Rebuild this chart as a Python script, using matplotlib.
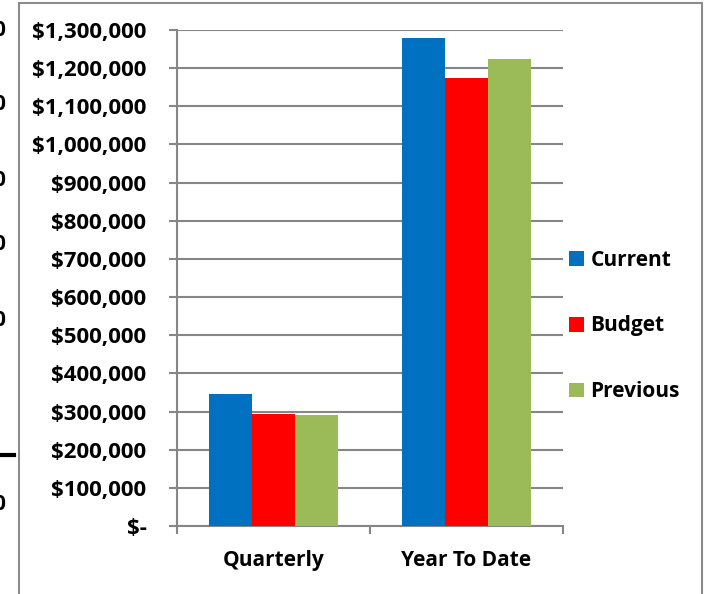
import matplotlib.pyplot as plt
from matplotlib.patches import Rectangle
from matplotlib.lines import Line2D
import numpy as np

categories = ["Quarterly", "Year To Date"]
series = ["Current", "Budget", "Previous"]
current = [346000, 1278000]
budget = [294000, 1173000]
previous = [291000, 1225000]
colors = ["#0070C0", "#FF0000", "#9BBB59"]
yticks = np.arange(0, 1300001, 100000)

plt.rcParams['font.family'] = ['Open Sans', 'DejaVu Sans']
fs = 15

fig = plt.figure(figsize=(7.1, 5.94), dpi=100)
ax = fig.add_axes([177 / 710, 1 - 526 / 594, (563 - 177) / 710, (526 - 30) / 594])

x = np.arange(len(categories))
w = 0.223
for i, (name, vals) in enumerate(zip(series, [current, budget, previous])):
    ax.bar(x + (i - 1) * w, vals, width=w, color=colors[i], label=name, zorder=3)

ax.set_xlim(-0.5, 1.5)
ax.set_ylim(0, 1300000)
grid_c = "#868686"
ax.set_yticks(yticks)
ax.set_yticklabels(["$-" if v == 0 else "${:,.0f}".format(v) for v in yticks],
                   fontsize=16, fontweight='bold')
ax.yaxis.grid(True, color=grid_c, linewidth=1.5, zorder=0)
ax.set_xticks(x)
ax.set_xticklabels(categories, fontsize=fs, fontweight='bold')
ax.set_xticks([-0.5, 0.5, 1.5], minor=True)
ax.tick_params(axis='x', which='major', length=0, pad=17)
ax.tick_params(axis='x', which='minor', length=6, width=1.5, color=grid_c)
ax.tick_params(axis='y', length=6, width=1.5, color=grid_c, pad=16)
for s in ['top', 'right']:
    ax.spines[s].set_visible(False)
for s in ['left', 'bottom']:
    ax.spines[s].set_color(grid_c)
    ax.spines[s].set_linewidth(1.5)

ax.legend(loc='center left', bbox_to_anchor=(1.0, (526 - 326) / 496), frameon=False,
          prop={'weight': 'bold', 'size': fs},
          handlelength=0.72, handleheight=0.72, handletextpad=0.3,
          labelspacing=2.15, borderpad=0, borderaxespad=0.3)

# chart frame
fig.patches.append(Rectangle((19 / 710, -0.01), (702 - 19) / 710, 1 - 3 / 594 + 0.01,
                             transform=fig.transFigure, fill=False,
                             edgecolor="#8c8c8c", linewidth=1.5))
# fragments of a neighbouring chart at the left edge
for yy in [30, 105, 180, 245, 320, 505]:
    fig.text(-7 / 710, 1 - yy / 594, "0", fontsize=fs, fontweight='bold', va='center')
fig.lines.append(Line2D([0, 14 / 710], [1 - 455 / 594] * 2, transform=fig.transFigure,
                        color='black', linewidth=3))

fig.savefig("out.png", dpi=100)
